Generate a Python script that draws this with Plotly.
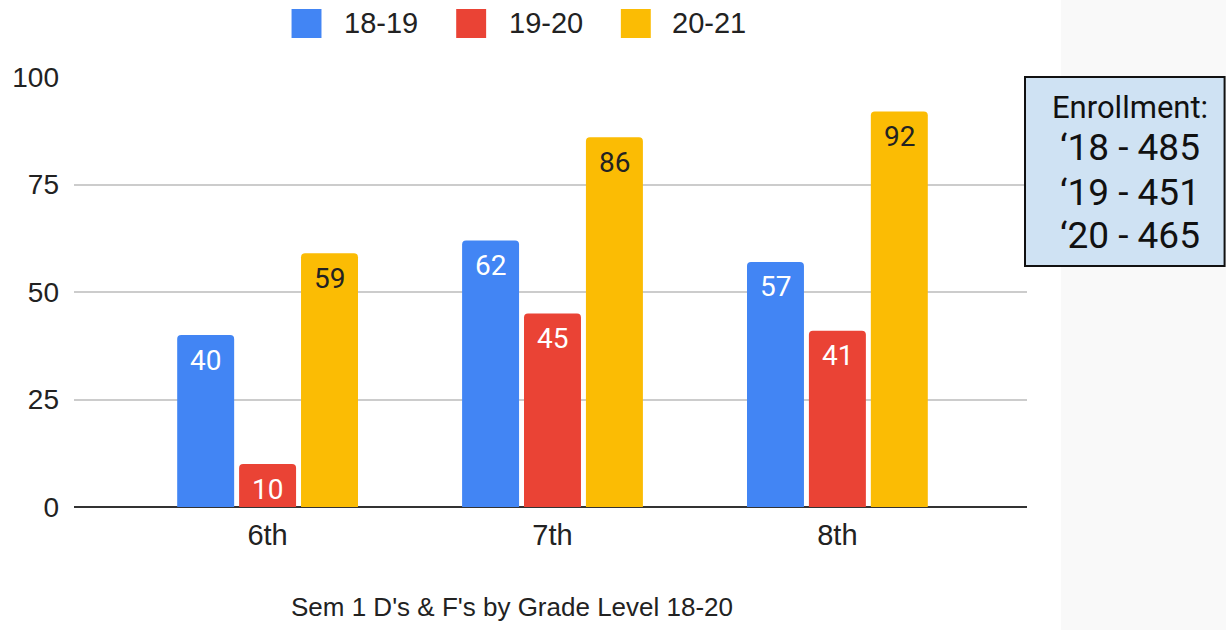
import plotly.graph_objects as go

# ---- data ----
categories = ["6th", "7th", "8th"]
series_names = ["18-19", "19-20", "20-21"]
values_1819 = [40, 62, 57]
values_1920 = [10, 45, 41]
values_2021 = [59, 86, 92]
y_ticks = [0, 25, 50, 75, 100]
title_text = "Sem 1 D's & F's by Grade Level 18-20"
enroll_header = "Enrollment:"
enroll_years = ["\u201818", "\u201819", "\u201820"]
enroll_values = [485, 451, 465]

series_values = [values_1819, values_1920, values_2021]
colors = ["#4285f4", "#ea4335", "#fbbc04"]
label_colors = ["#ffffff", "#ffffff", "#222222"]

W, H = 1226, 630
L, R, T, B = 72, 1027, 77, 507  # plot area in px


def px_x(px):
    return (px - L) / (R - L)


def px_y(py):
    return (B - py) / (B - T)


x_idx = list(range(len(categories)))
bargap = 0.348
slot = (1 - bargap) / 3

fig = go.Figure()
for k, (name, vals) in enumerate(zip(series_names, series_values)):
    fig.add_trace(go.Bar(
        x=x_idx, y=vals, name=name,
        marker=dict(color=colors[k], line=dict(width=0)),
        showlegend=False, hoverinfo="skip",
    ))

annotations = []
# data labels
for k, vals in enumerate(series_values):
    for i, v in enumerate(vals):
        annotations.append(dict(
            x=i + (k - 1) * slot, y=v, xref="x", yref="y",
            text=str(v), showarrow=False, yanchor="middle", yshift=-25,
            font=dict(family="Roboto", size=28, color=label_colors[k]),
        ))

# custom legend
legend_sq = [290, 455, 620]
legend_tx = [341, 506, 669]
shapes = []
for k, name in enumerate(series_names):
    shapes.append(dict(
        type="rect", xref="paper", yref="paper",
        x0=px_x(legend_sq[k]), x1=px_x(legend_sq[k] + 30),
        y0=px_y(38), y1=px_y(9),
        fillcolor=colors[k], line=dict(width=0), layer="above",
    ))
    annotations.append(dict(
        x=px_x(legend_tx[k]), y=px_y(23), xref="paper", yref="paper",
        text=name, showarrow=False, xanchor="left", yanchor="middle",
        font=dict(family="Liberation Sans, Arial", size=29, color="#222222"),
    ))

# grey side panel
shapes.insert(0, dict(
    type="rect", xref="paper", yref="paper",
    x0=px_x(1061), x1=px_x(1230), y0=px_y(H + 5), y1=px_y(-5),
    fillcolor="#f9f9f9", line=dict(width=0), layer="below",
))
# enrollment box
shapes.append(dict(
    type="rect", xref="paper", yref="paper",
    x0=px_x(1025), x1=px_x(1225), y0=px_y(266), y1=px_y(77),
    fillcolor="#cfe2f3", line=dict(color="#111111", width=2), layer="above",
))
annotations.append(dict(
    x=px_x(1130), y=px_y(108), xref="paper", yref="paper",
    text=enroll_header, showarrow=False, xanchor="center", yanchor="middle",
    font=dict(family="Roboto", size=31, color="#111111"),
))
enroll_y = [147, 192, 235]
for j, (yr, val) in enumerate(zip(enroll_years, enroll_values)):
    annotations.append(dict(
        x=px_x(1130), y=px_y(enroll_y[j]), xref="paper", yref="paper",
        text=f"{yr} - {val}", showarrow=False, xanchor="center", yanchor="middle",
        font=dict(family="Roboto", size=37, color="#111111"),
    ))

# bottom title
annotations.append(dict(
    x=px_x(511), y=px_y(607), xref="paper", yref="paper",
    text=title_text, showarrow=False, xanchor="center", yanchor="middle",
    font=dict(family="Liberation Sans, Arial", size=26, color="#222222"),
))

fig.update_layout(
    width=W, height=H,
    margin=dict(l=L, r=W - R, t=T, b=H - B, pad=0),
    paper_bgcolor="#ffffff", plot_bgcolor="#ffffff",
    barmode="group", bargap=bargap, bargroupgap=0.08, barcornerradius=4,
    showlegend=False,
    shapes=shapes, annotations=annotations,
    xaxis=dict(
        range=[-0.6795, 2.6655], tickmode="array", tickvals=x_idx, ticktext=categories,
        showgrid=False, zeroline=False, showline=False,
        tickfont=dict(family="Liberation Sans, Arial", size=29, color="#222222"),
        ticks="", ticklabelstandoff=8, fixedrange=True,
    ),
    yaxis=dict(
        range=[0, 100], tickmode="array", tickvals=y_ticks,
        showgrid=True, gridcolor="#cccccc", gridwidth=2,
        zeroline=True, zerolinecolor="#333333", zerolinewidth=2,
        showline=False, ticks="",
        tickfont=dict(family="Liberation Sans, Arial", size=28, color="#222222"),
        ticklabelstandoff=14, fixedrange=True,
    ),
)

fig.write_html(
    "out.html",
    config={"displayModeBar": False},
    post_script="document.body.style.margin='0';document.body.style.overflow='hidden';",
)
